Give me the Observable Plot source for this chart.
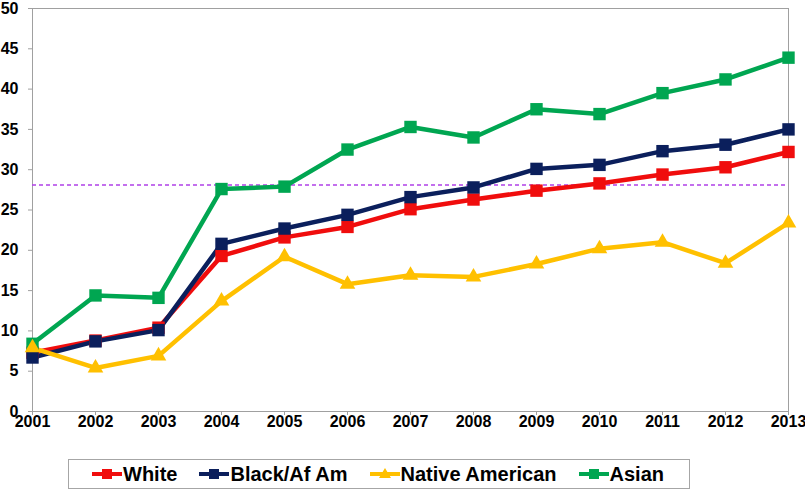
<!DOCTYPE html>
<html><head><meta charset="utf-8">
<script src="https://cdn.jsdelivr.net/npm/d3@7"></script>
<script src="https://cdn.jsdelivr.net/npm/@observablehq/plot@0.6"></script>
<style>
body{margin:0;background:#fff;font-family:"Liberation Sans",Arial,sans-serif;}
#legend{position:absolute;left:68px;top:459px;width:622px;height:30px;border:1px solid #a6a6a6;box-sizing:border-box;display:flex;align-items:center;gap:22px;padding-left:23px;font-weight:bold;font-size:20px;color:#000;}
#legend span{display:flex;align-items:center;white-space:nowrap;}
#legend svg{margin-right:1px;}
</style></head><body>
<div id="chart"></div>
<div id="legend"></div>
<script>
const years = [2001,2002,2003,2004,2005,2006,2007,2008,2009,2010,2011,2012,2013];
const seriesNames = ["White","Black/Af Am","Native American","Asian"];
const white  = [7.3,8.8,10.4,19.3,21.6,22.9,25.1,26.3,27.4,28.3,29.4,30.3,32.2];
const black  = [6.7,8.7,10.1,20.8,22.7,24.4,26.6,27.8,30.1,30.6,32.3,33.1,35.0];
const native = [7.9,5.4,6.9,13.7,19.2,15.8,16.9,16.7,18.3,20.2,21.0,18.4,23.4];
const asian  = [8.4,14.4,14.1,27.6,27.9,32.5,35.3,34.0,37.5,36.9,39.5,41.2,43.9];
const referenceLevel = 28.1;
const yTicks = [0,5,10,15,20,25,30,35,40,45,50];
const colors = ["#f00d0d","#0b1f5c","#ffc000","#00a651"];
const symbols = ["square","square","triangle","square"];

const allSeries = [white, black, native, asian];
const data = [];
allSeries.forEach((vals, i) => vals.forEach((v, j) => data.push({year: years[j], value: v, series: seriesNames[i]})));
const isTri = d => symbols[seriesNames.indexOf(d.series)] === "triangle";

const chart = Plot.plot({
  width: 805, height: 440,
  marginLeft: 32, marginRight: 17, marginTop: 8, marginBottom: 29,
  style: {fontFamily: "'Liberation Sans', Arial, sans-serif", fontSize: "16px", fontWeight: "bold", color: "#000", background: "#fff", overflow: "visible"},
  x: {domain: [2001, 2013]},
  y: {domain: [0, 50]},
  color: {domain: seriesNames, range: colors},
  symbol: {domain: seriesNames, range: symbols},
  marks: [
    Plot.frame({stroke: "#a0a0a0", strokeWidth: 1}),
    Plot.ruleY([referenceLevel], {stroke: "#b040e8", strokeWidth: 1.5, strokeDasharray: "4,3"}),
    Plot.axisY({ticks: yTicks, tickSize: 4, tickPadding: 10, stroke: "#a0a0a0", fill: "#000", label: null}),
    Plot.axisX({ticks: years, tickSize: 4, tickPadding: 0, tickFormat: d => String(d), stroke: "#a0a0a0", fill: "#000", label: null}),
    Plot.line(data, {x: "year", y: "value", z: "series", stroke: "series", strokeWidth: 4.5, strokeLinejoin: "round"}),
    Plot.dot(data, {filter: d => !isTri(d), x: "year", y: "value", symbol: "series", fill: "series", r: 7, stroke: null}),
    Plot.dot(data, {filter: isTri, x: "year", y: "value", symbol: "series", fill: "series", r: 5.8, stroke: null})
  ]
});
document.getElementById("chart").appendChild(chart);

const legend = document.getElementById("legend");
seriesNames.forEach((name, i) => {
  const span = document.createElement("span");
  const sym = symbols[i] === "triangle"
    ? `<path d="M15,4 L21,14 L9,14 Z" fill="${colors[i]}"/>`
    : `<rect x="10" y="5" width="10" height="10" fill="${colors[i]}"/>`;
  span.innerHTML = `<svg width="30" height="20"><line x1="0" y1="10" x2="30" y2="10" stroke="${colors[i]}" stroke-width="4"/>${sym}</svg>${name}`;
  legend.appendChild(span);
});
</script>
</body></html>
